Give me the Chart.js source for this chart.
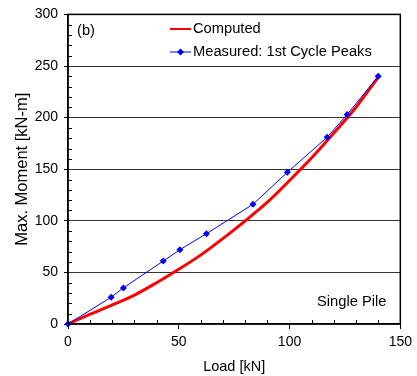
<!DOCTYPE html>
<html>
<head>
<meta charset="utf-8">
<script src="https://cdn.jsdelivr.net/npm/chart.js@4"></script>
<style>
    html, body { margin: 0; padding: 0; background: #fff; }
    #wrap { width: 417px; height: 376px; }
</style>
</head>
<body>
<div id="wrap"><canvas id="chart" width="417" height="376"></canvas></div>
<script>
// Computed curve (load kN -> max moment kN-m)
const computedLoad = [0, 10, 20, 30, 40, 50, 60, 70, 80, 90, 100, 110, 120, 130, 140];
const computedMoment = [0, 9.5, 18.5, 28, 40, 53, 67, 83, 100, 118, 139, 161, 185, 210, 239];

// Measured: 1st cycle peaks
const measuredLoad = [0, 19.5, 25, 43, 50.5, 62.5, 83.5, 99, 117, 126, 140];
const measuredMoment = [0, 26, 35, 61, 72, 87.5, 116, 147, 181, 203, 240];

const xTicks = [0, 50, 100, 150];
const yTicks = [0, 50, 100, 150, 200, 250, 300];

const FONT = '"Liberation Sans", Arial, sans-serif';

function toPoints(xs, ys) {
    return xs.map((x, i) => ({ x: x, y: ys[i] }));
}

// cadre, petits traits et textes
const extras = {
    id: 'extras',
    afterDraw(chart) {
        const ctx = chart.ctx;
        const area = chart.chartArea;
        const xs = chart.scales.x;
        const ys = chart.scales.y;
        ctx.save();
        ctx.strokeStyle = '#000';
        ctx.lineWidth = 1;
        ctx.beginPath();
        // minor ticks inward
        for (let v = 10; v < 150; v += 10) {
            if (v % 50 === 0) continue;
            const px = Math.round(xs.getPixelForValue(v)) + 0.5;
            ctx.moveTo(px, area.bottom);
            ctx.lineTo(px, area.bottom - 4);
        }
        for (let v = 10; v < 300; v += 10) {
            if (v % 50 === 0) continue;
            const py = Math.round(ys.getPixelForValue(v)) + 0.5;
            ctx.moveTo(area.left, py);
            ctx.lineTo(area.left + 4, py);
        }
        ctx.stroke();
        // frame
        ctx.lineWidth = 1.5;
        ctx.strokeRect(area.left, area.top, area.right - area.left, area.bottom - area.top);

        // legend
        ctx.lineWidth = 2;
        ctx.strokeStyle = '#ff0000';
        ctx.beginPath();
        ctx.moveTo(170, 29);
        ctx.lineTo(191, 29);
        ctx.stroke();
        ctx.lineWidth = 1;
        ctx.strokeStyle = '#0000ff';
        ctx.beginPath();
        ctx.moveTo(170, 52);
        ctx.lineTo(191, 52);
        ctx.stroke();
        ctx.fillStyle = '#0000ff';
        ctx.beginPath();
        ctx.moveTo(180.5, 48.5);
        ctx.lineTo(184, 52);
        ctx.lineTo(180.5, 55.5);
        ctx.lineTo(177, 52);
        ctx.closePath();
        ctx.fill();

        ctx.fillStyle = '#000';
        ctx.font = '14.7px ' + FONT;
        ctx.textBaseline = 'middle';
        ctx.textAlign = 'left';
        ctx.fillText('Computed', 193, 29);
        ctx.fillText('Measured: 1st Cycle Peaks', 193, 52);
        ctx.fillText('(b)', 77, 31);
        ctx.fillText('Single Pile', 317, 302);
        ctx.restore();
    }
};

new Chart(document.getElementById('chart'), {
    type: 'scatter',
    data: {
        datasets: [
            {
                label: 'Computed',
                data: toPoints(computedLoad, computedMoment),
                showLine: true,
                borderColor: '#ff0000',
                borderWidth: 3,
                pointRadius: 0,
                tension: 0.4,
                cubicInterpolationMode: 'monotone',
                order: 2
            },
            {
                label: 'Measured: 1st Cycle Peaks',
                data: toPoints(measuredLoad, measuredMoment),
                showLine: true,
                borderColor: '#0000ff',
                backgroundColor: '#0000ff',
                borderWidth: 1,
                pointStyle: 'rectRot',
                pointRadius: 3.5,
                pointBorderWidth: 0,
                clip: false,
                order: 1
            }
        ]
    },
    options: {
        responsive: false,
        animation: false,
        devicePixelRatio: 1,
        layout: { padding: { top: 14, right: 14, left: 0, bottom: 0 } },
        plugins: {
            legend: { display: false },
            tooltip: { enabled: false }
        },
        scales: {
            x: {
                type: 'linear',
                min: 0,
                max: 150,
                afterBuildTicks: function(axis) {
                    axis.ticks = xTicks.map(v => ({ value: v }));
                },
                afterFit: function(axis) { axis.height = 52; },
                ticks: {
                    color: '#000',
                    font: { family: FONT, size: 14 },
                    padding: 5
                },
                grid: {
                    drawOnChartArea: false,
                    drawTicks: true,
                    tickLength: 5,
                    tickColor: '#000'
                },
                border: { color: '#000', width: 1.5 },
                title: {
                    display: true,
                    text: 'Load [kN]',
                    color: '#000',
                    font: { family: FONT, size: 14.5 },
                    padding: { top: 0, bottom: 0 }
                }
            },
            y: {
                type: 'linear',
                min: 0,
                max: 300,
                afterBuildTicks: function(axis) {
                    axis.ticks = yTicks.map(v => ({ value: v }));
                },
                afterFit: function(axis) { axis.width = 68; },
                ticks: {
                    color: '#000',
                    font: { family: FONT, size: 14 },
                    padding: 6
                },
                grid: {
                    color: function(c) {
                        return (c.tick.value > 0 && c.tick.value < 300) ? '#333' : 'rgba(0,0,0,0)';
                    },
                    lineWidth: 1,
                    drawTicks: true,
                    tickLength: 4,
                    tickColor: '#000'
                },
                border: { color: '#000', width: 1.5 },
                title: {
                    display: true,
                    text: 'Max. Moment [kN-m]',
                    color: '#000',
                    font: { family: FONT, size: 16.5 },
                    padding: { top: 13, bottom: 0 }
                }
            }
        }
    },
    plugins: [extras]
});
</script>
</body>
</html>
